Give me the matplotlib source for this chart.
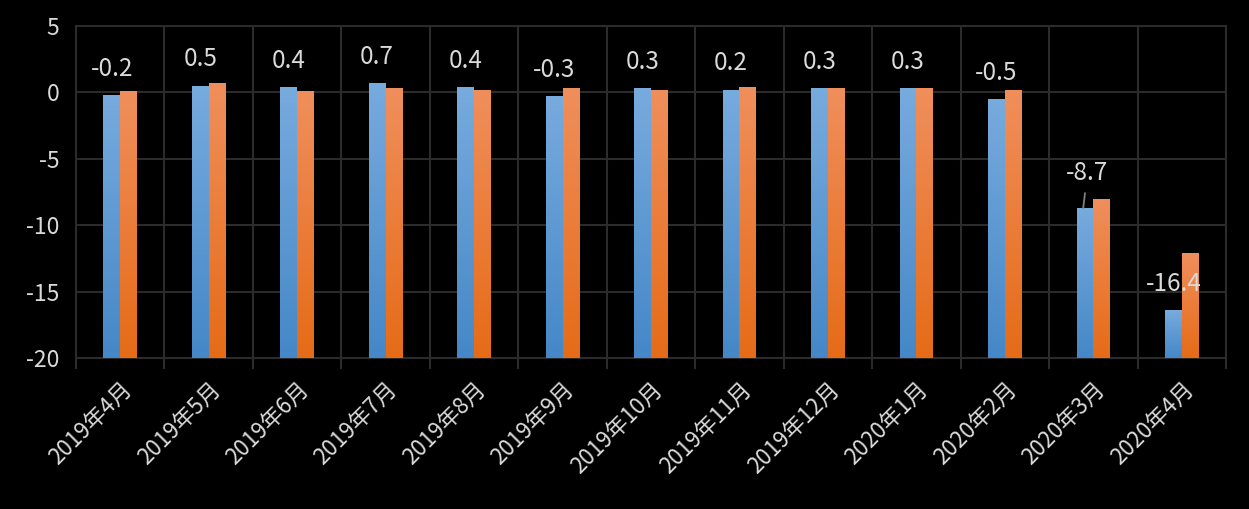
import numpy as np
import matplotlib.pyplot as plt
import matplotlib.transforms as mtransforms
from matplotlib.patches import Rectangle

plt.rcParams['font.family'] = ['Noto Sans CJK SC', 'DejaVu Sans']
plt.rcParams['axes.unicode_minus'] = False

# data
months = ['2019年4月', '2019年5月', '2019年6月', '2019年7月', '2019年8月', '2019年9月',
          '2019年10月', '2019年11月', '2019年12月', '2020年1月', '2020年2月',
          '2020年3月', '2020年4月']
blue_vals = [-0.2, 0.5, 0.4, 0.7, 0.4, -0.3, 0.3, 0.2, 0.3, 0.3, -0.5, -8.7, -16.4]
orange_vals = [0.1, 0.7, 0.1, 0.3, 0.2, 0.3, 0.2, 0.4, 0.3, 0.3, 0.2, -8.0, -12.1]

y_min, y_max = -20, 5
bar_w = 0.19
txt_col = '#dadada'
grid_col = '#2b2b2b'

# top / bottom colours of the gradients
blue_grad = [(0.47, 0.67, 0.87), (0.27, 0.53, 0.78)]
orange_grad = [(0.94, 0.56, 0.36), (0.90, 0.42, 0.09)]


def grad_bar(ax, x0, w, top, cols):
    g = np.linspace(0, 1, 256).reshape(-1, 1)
    c0, c1 = np.array(cols[0]), np.array(cols[1])
    img = c0 + (c1 - c0) * g[..., None]
    img = img.reshape(256, 1, 3)
    rect = Rectangle((x0, y_min), w, top - y_min, facecolor='none', edgecolor='none')
    ax.add_patch(rect)
    im = ax.imshow(img, extent=[x0, x0 + w, y_min, top], aspect='auto',
                   origin='upper', zorder=3, interpolation='bilinear')
    im.set_clip_path(rect)


fig = plt.figure(figsize=(12.49, 5.09), dpi=100, facecolor='black')
ax = fig.add_axes([0.0608, 0.2967, 0.9208, 0.6522], facecolor='black')

x = np.arange(len(months))
for i in x:
    grad_bar(ax, i - bar_w, bar_w, blue_vals[i], blue_grad)
    grad_bar(ax, i, bar_w, orange_vals[i], orange_grad)

# data labels on the blue series
for i, v in enumerate(blue_vals):
    if i == 11:
        ax.annotate(f'{v:g}', xy=(i - bar_w * 0.6, v), xytext=(3, 25),
                    textcoords='offset points', ha='center', va='center',
                    color=txt_col, fontsize=17.5,
                    arrowprops=dict(arrowstyle='-', color='#808080', lw=1.3,
                                    shrinkA=3, shrinkB=0))
    else:
        ax.annotate(f'{v:g}', xy=(i - bar_w / 2, v), xytext=(0, 19),
                    textcoords='offset points', ha='center', va='center',
                    color=txt_col, fontsize=17.5)

ax.set_xlim(-0.5, len(months) - 0.5)
ax.set_ylim(y_min, y_max)
ax.set_yticks(np.arange(y_min, y_max + 1, 5))
ax.set_xticks(x)
ax.set_xticklabels(months, rotation=45, ha='right', rotation_mode='anchor',
                   fontsize=16, color=txt_col)
shift = mtransforms.ScaledTranslation(-22 / 100, 0, fig.dpi_scale_trans)
for lbl in ax.get_xticklabels():
    lbl.set_transform(lbl.get_transform() + shift)
ax.set_xticks(np.arange(-0.5, len(months), 1), minor=True)
ax.tick_params(axis='x', which='major', length=0, pad=14)
ax.tick_params(axis='x', which='minor', length=8, color=grid_col, width=1.5)
ax.tick_params(axis='y', length=0, labelsize=16.5, labelcolor=txt_col, pad=12)

ax.grid(axis='y', color=grid_col, lw=1.5, zorder=0)
ax.grid(axis='x', which='minor', color=grid_col, lw=1.5, zorder=0)
for s in ax.spines.values():
    s.set_color(grid_col)
    s.set_linewidth(1.5)
ax.set_axisbelow(True)

fig.savefig('out.png', dpi=100, facecolor='black')
